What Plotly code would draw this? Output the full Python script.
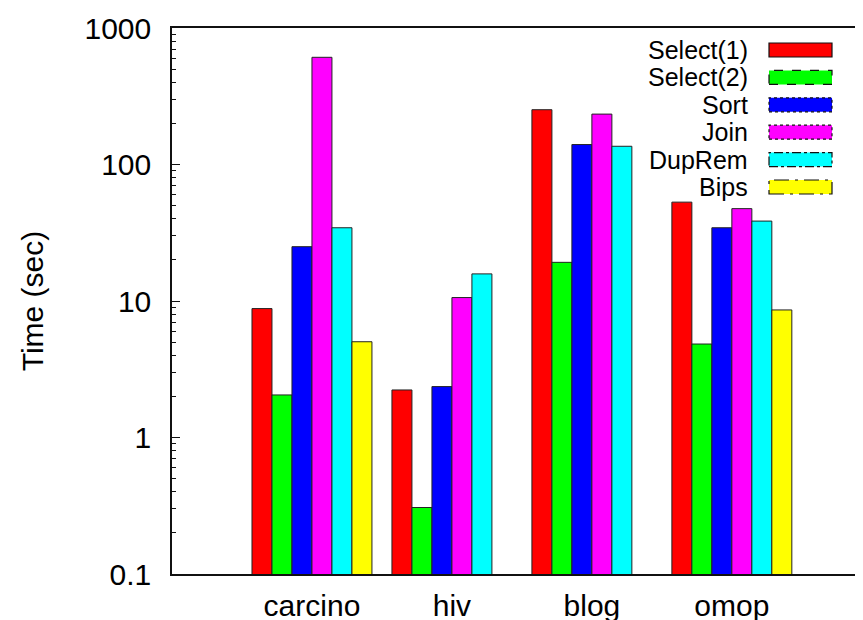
import plotly.graph_objects as go

categories = ["carcino", "hiv", "blog", "omop"]
series_names = ["Select(1)", "Select(2)", "Sort", "Join", "DupRem", "Bips"]
select1 = [8.8, 2.23, 252, 53]
select2 = [2.05, 0.307, 19.2, 4.84]
sort_v = [25, 2.36, 140, 34.4]
join_v = [610, 10.6, 234, 47.5]
duprem = [34.4, 15.8, 136, 38.5]
bips = [5.03, None, None, 8.6]
series_values = [select1, select2, sort_v, join_v, duprem, bips]
colors = ["#ff0000", "#00ff00", "#0000ff", "#ff00ff", "#00ffff", "#ffff00"]
legend_dash = ["solid", "dash", "dot", "dot", "dashdot", "longdashdot"]
y_tickvals = [0.1, 1, 10, 100, 1000]
y_ticktext = ["0.1", "1", "10", "100", "1000"]

FONT = "Liberation Sans, Arial, Helvetica, sans-serif"

fig = go.Figure()
for name, vals, col in zip(series_names, series_values, colors):
    fig.add_trace(go.Bar(
        x=categories, y=vals, name=name,
        marker=dict(color=col, line=dict(color="#222222", width=1)),
        showlegend=False,
    ))

# page body has an 8px margin: compensate so the plot sits where the reference does
OFF = 8
W, H = 863 - OFF, 620 - OFF
L, R, T, B = 172 - OFF, 0, 28 - OFF, 620 - 574
pw, ph = W - L - R, H - T - B
def px(sx):
    return (sx - OFF - L) / pw
def py(sy):
    return (H - B - (sy - OFF)) / ph

# custom gnuplot-style legend: text on the left, sample box on the right
row0, step = 50, 27.4
for i, (name, col, dsh) in enumerate(zip(series_names, colors, legend_dash)):
    yc = row0 + step * i
    fig.add_annotation(x=px(750), y=py(yc), xref="paper", yref="paper",
                       text=name, showarrow=False, xanchor="right", yanchor="middle",
                       font=dict(family=FONT, size=25, color="black"))
    fig.add_shape(type="rect", xref="paper", yref="paper",
                  x0=px(769), x1=px(832), y0=py(yc + 7), y1=py(yc - 7),
                  fillcolor=col, line=dict(color="#111111", width=1.2, dash=dsh))

fig.update_layout(
    width=W, height=H,
    margin=dict(l=L, r=R, t=T, b=B, pad=0, autoexpand=False),
    paper_bgcolor="white", plot_bgcolor="white",
    barmode="group", bargap=0.143, bargroupgap=0,
    font=dict(family=FONT, size=28, color="black"),
    showlegend=False,
    xaxis=dict(
        type="category", range=[-1, 3.937], automargin=False,
        showline=True, linecolor="#111111", linewidth=1.5, mirror=True,
        ticks="", showgrid=False, zeroline=False,
        tickfont=dict(size=30), ticklabelstandoff=4,
    ),
    yaxis=dict(
        type="log", range=[-1, 3], automargin=False,
        showline=True, linecolor="#111111", linewidth=1.5, mirror=False,
        ticks="inside", ticklen=8, tickwidth=1.2, tickcolor="#111111",
        tickvals=y_tickvals, ticktext=y_ticktext,
        minor=dict(ticks="inside", ticklen=4, tickwidth=1, tickcolor="#111111",
                   dtick="D1", showgrid=False),
        showgrid=False, zeroline=False,
        tickfont=dict(size=30), ticklabelstandoff=13,
        title=dict(text="Time (sec)", font=dict(size=30), standoff=32),
    ),
    yaxis2=dict(
        type="log", range=[-1, 3], overlaying="y", side="right", anchor="x",
        ticks="inside", ticklen=2, tickwidth=1, tickcolor="#111111",
        tickvals=y_tickvals, showticklabels=False, automargin=False,
        showline=False, showgrid=False, zeroline=False,
    ),
)

fig.write_html("out.html")
